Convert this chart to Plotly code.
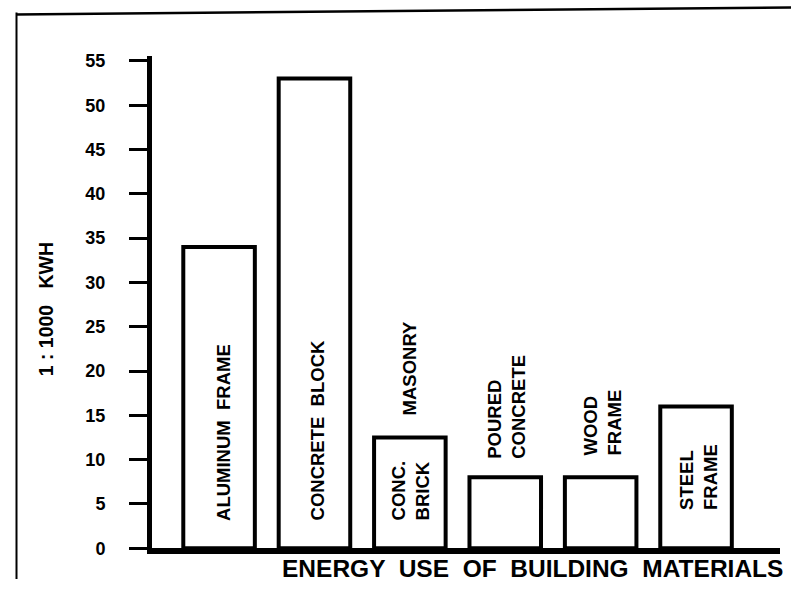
import plotly.graph_objects as go

# ---- data ----
categories = ["Aluminum Frame", "Concrete Block", "Conc. Brick Masonry",
              "Poured Concrete", "Wood Frame", "Steel Frame"]
values = [34, 53, 12.5, 8, 8, 16]
bar_labels = ["ALUMINUM  FRAME", "CONCRETE  BLOCK", "CONC.<br>BRICK",
              "POURED<br>CONCRETE", "WOOD<br>FRAME", "STEEL<br>FRAME"]
extra_label = "MASONRY"
y_ticks = [0, 5, 10, 15, 20, 25, 30, 35, 40, 45, 50, 55]
title_text = "ENERGY  USE  OF  BUILDING  MATERIALS"
y_title = "1 : 1000   KWH"

# ---- layout helpers: map picture pixels to paper fractions ----
W, H = 791, 589
TOP, SPAN = 4.5, 574.3   # visible vertical extent of the figure in the photo
def px(x):
    return x / W
def py(y):
    return 1 - (y - TOP) / SPAN

# label base positions (data units, bottom of rotated text)
label_bottom = [2.8, 2.9, 2.9, 9.9, 10.2, 4.1]
label_xshift = [5, 3, 1, 1, 2, 3]

FONT = "Liberation Sans, Arial, sans-serif"

fig = go.Figure()
fig.add_trace(go.Bar(
    x=list(range(len(categories))), y=values,
    width=0.75,
    marker=dict(color="white", line=dict(color="black", width=4)),
    hovertext=categories, showlegend=False,
))

annotations = []
for i, (lab, yb) in enumerate(zip(bar_labels, label_bottom)):
    annotations.append(dict(
        x=i, y=yb, xref="x", yref="y", text="<b>" + lab + "</b>",
        textangle=-90, showarrow=False, xanchor="center", yanchor="bottom",
        align="left", xshift=label_xshift[i],
        font=dict(family=FONT, size=18.5, color="black"),
    ))
annotations.append(dict(
    x=2, y=14.8, xref="x", yref="y", text="<b>" + extra_label + "</b>",
    textangle=-90, showarrow=False, xanchor="center", yanchor="bottom",
    font=dict(family=FONT, size=18.5, color="black"),
))
annotations.append(dict(
    x=px(532), y=py(568), xref="paper", yref="paper", text="<b>" + title_text + "</b>",
    showarrow=False, xanchor="center", yanchor="middle",
    font=dict(family=FONT, size=24.5, color="black"),
))
annotations.append(dict(
    x=px(46), y=py(309), xref="paper", yref="paper", text="<b>" + y_title + "</b>",
    textangle=-90, showarrow=False, xanchor="center", yanchor="middle",
    font=dict(family=FONT, size=19.5, color="black"),
))

shapes = [
    dict(type="line", xref="paper", yref="paper", x0=px(16.5), y0=py(12), x1=px(16.5), y1=0,
         line=dict(color="black", width=2)),
    dict(type="line", xref="paper", yref="paper", x0=px(16), y0=py(14), x1=px(791), y1=py(7),
         line=dict(color="black", width=2.5)),
]

fig.update_layout(
    width=W, height=H,
    margin=dict(l=0, r=0, t=0, b=0),
    paper_bgcolor="white", plot_bgcolor="white",
    bargap=0.25,
    xaxis=dict(domain=[px(152), px(780)], range=[-0.703, 5.88],
               showline=True, linecolor="black", linewidth=6,
               showticklabels=False, ticks="", showgrid=False, zeroline=False,
               fixedrange=True),
    yaxis=dict(domain=[py(548), py(56)], range=[0, 55.5],
               showline=True, linecolor="black", linewidth=5,
               tickmode="array", tickvals=y_ticks,
               ticks="outside", ticklen=18, tickwidth=2.5, tickcolor="black",
               ticklabelstandoff=20,
               tickfont=dict(family=FONT, size=18, color="black", weight="bold"),
               showgrid=False, zeroline=False, fixedrange=True),
    annotations=annotations,
    shapes=shapes,
)

post = (
    "document.documentElement.style.margin='0';"
    "document.documentElement.style.overflow='hidden';"
    "document.body.style.margin='0';"
    "document.body.style.overflow='hidden';"
)

fig.write_html(
    "out.html",
    config={"displayModeBar": False},
    post_script=post,
)
